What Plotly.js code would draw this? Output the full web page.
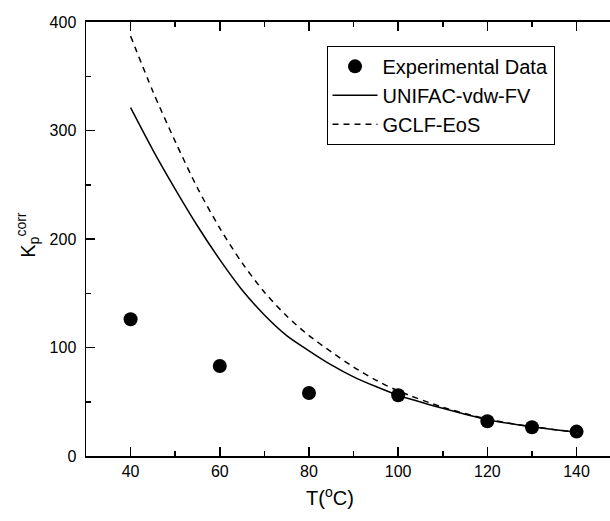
<!DOCTYPE html>
<html>
<head>
<meta charset="utf-8">
<script src="https://cdn.plot.ly/plotly-3.0.1.min.js"></script>
<style>html,body{margin:0;padding:0;background:#fff;}#chart{width:610px;height:521px;}</style>
</head>
<body>
<div id="chart"></div>
<script>
// Experimental data
const expT = [40, 60, 80, 100, 120, 130, 140];
const expK = [126, 83, 58, 56, 32, 26.5, 22.5];

// UNIFAC-vdw-FV model
const unifacT = [40, 45, 50, 55, 60, 65, 70, 75, 80, 85, 90, 95, 100, 110, 120, 130, 140];
const unifacK = [321, 282, 246, 212, 181, 153, 130, 111, 97, 84, 73, 64, 56, 44, 33.5, 27, 22];

// GCLF-EoS model
const gclfT = [40, 45, 50, 55, 60, 65, 70, 75, 80, 85, 90, 95, 100, 110, 120, 130, 140];
const gclfK = [387, 336, 290, 247, 210, 178, 151, 129, 111, 96, 82, 70, 60, 45, 34, 27, 22];

const xTickVals = [40, 60, 80, 100, 120, 140];
const yTickVals = [0, 100, 200, 300, 400];

const FONT = "'Liberation Sans', Arial, Helvetica, sans-serif";

const traces = [
  {x: expT, y: expK, mode: 'markers', name: 'Experimental Data',
   marker: {color: '#000', size: 14, symbol: 'circle'}},
  {x: unifacT, y: unifacK, mode: 'lines', name: 'UNIFAC-vdw-FV',
   line: {color: '#000', width: 1.5, shape: 'spline', smoothing: 0.8}},
  {x: gclfT, y: gclfK, mode: 'lines', name: 'GCLF-EoS',
   line: {color: '#000', width: 1.5, dash: '6px,5px', shape: 'spline', smoothing: 0.8}}
];

const layout = {
  width: 610, height: 521,
  margin: {l: 86, r: 0, t: 22, b: 64.5, pad: 0},
  paper_bgcolor: '#fff', plot_bgcolor: '#fff',
  font: {family: FONT, size: 16, color: '#000'},
  showlegend: true,
  legend: {
    x: 0.459, y: 0.945, xanchor: 'left', yanchor: 'top',
    bordercolor: '#000', borderwidth: 1, bgcolor: '#fff',
    font: {family: FONT, size: 20, color: '#000'},
    itemwidth: 45, tracegroupgap: 0
  },
  xaxis: {
    range: [30, 147.5], tickvals: xTickVals, ticktext: xTickVals.map(String),
    ticks: 'inside', ticklen: 9, tickwidth: 1.5, tickcolor: '#000',
    showline: true, linecolor: '#000', linewidth: 2, mirror: 'ticks',
    showgrid: false, zeroline: false,
    tickfont: {family: FONT, size: 16, color: '#000'},
    minor: {dtick: 10, tick0: 30, ticks: 'inside', ticklen: 5, tickwidth: 1.5, tickcolor: '#000', showgrid: false}
  },
  yaxis: {
    range: [0, 400], tickvals: yTickVals, ticktext: yTickVals.map(String),
    ticks: 'inside', ticklen: 9, tickwidth: 1.5, tickcolor: '#000',
    ticklabelstandoff: 5,
    showline: true, linecolor: '#000', linewidth: 1.5, mirror: false,
    showgrid: false, zeroline: false,
    tickfont: {family: FONT, size: 16, color: '#000'},
    minor: {dtick: 50, tick0: 0, ticks: 'inside', ticklen: 5, tickwidth: 1.5, tickcolor: '#000', showgrid: false}
  },
  annotations: [
    {text: 'T(<sup>o</sup>C)', xref: 'paper', yref: 'paper',
     x: (330 - 86) / 524, y: -(497 - 456.5) / 434.5, xanchor: 'center', yanchor: 'middle',
     showarrow: false, font: {family: FONT, size: 20, color: '#000'}},
    {text: 'K<sub>p</sub><sup>corr</sup>', xref: 'paper', yref: 'paper',
     x: -(86 - 28) / 524, y: (456.5 - 235) / 434.5, xanchor: 'center', yanchor: 'middle',
     textangle: -90, showarrow: false, font: {family: FONT, size: 20, color: '#000'}}
  ]
};

Plotly.newPlot('chart', traces, layout, {displayModeBar: false, staticPlot: true});
</script>
</body>
</html>
